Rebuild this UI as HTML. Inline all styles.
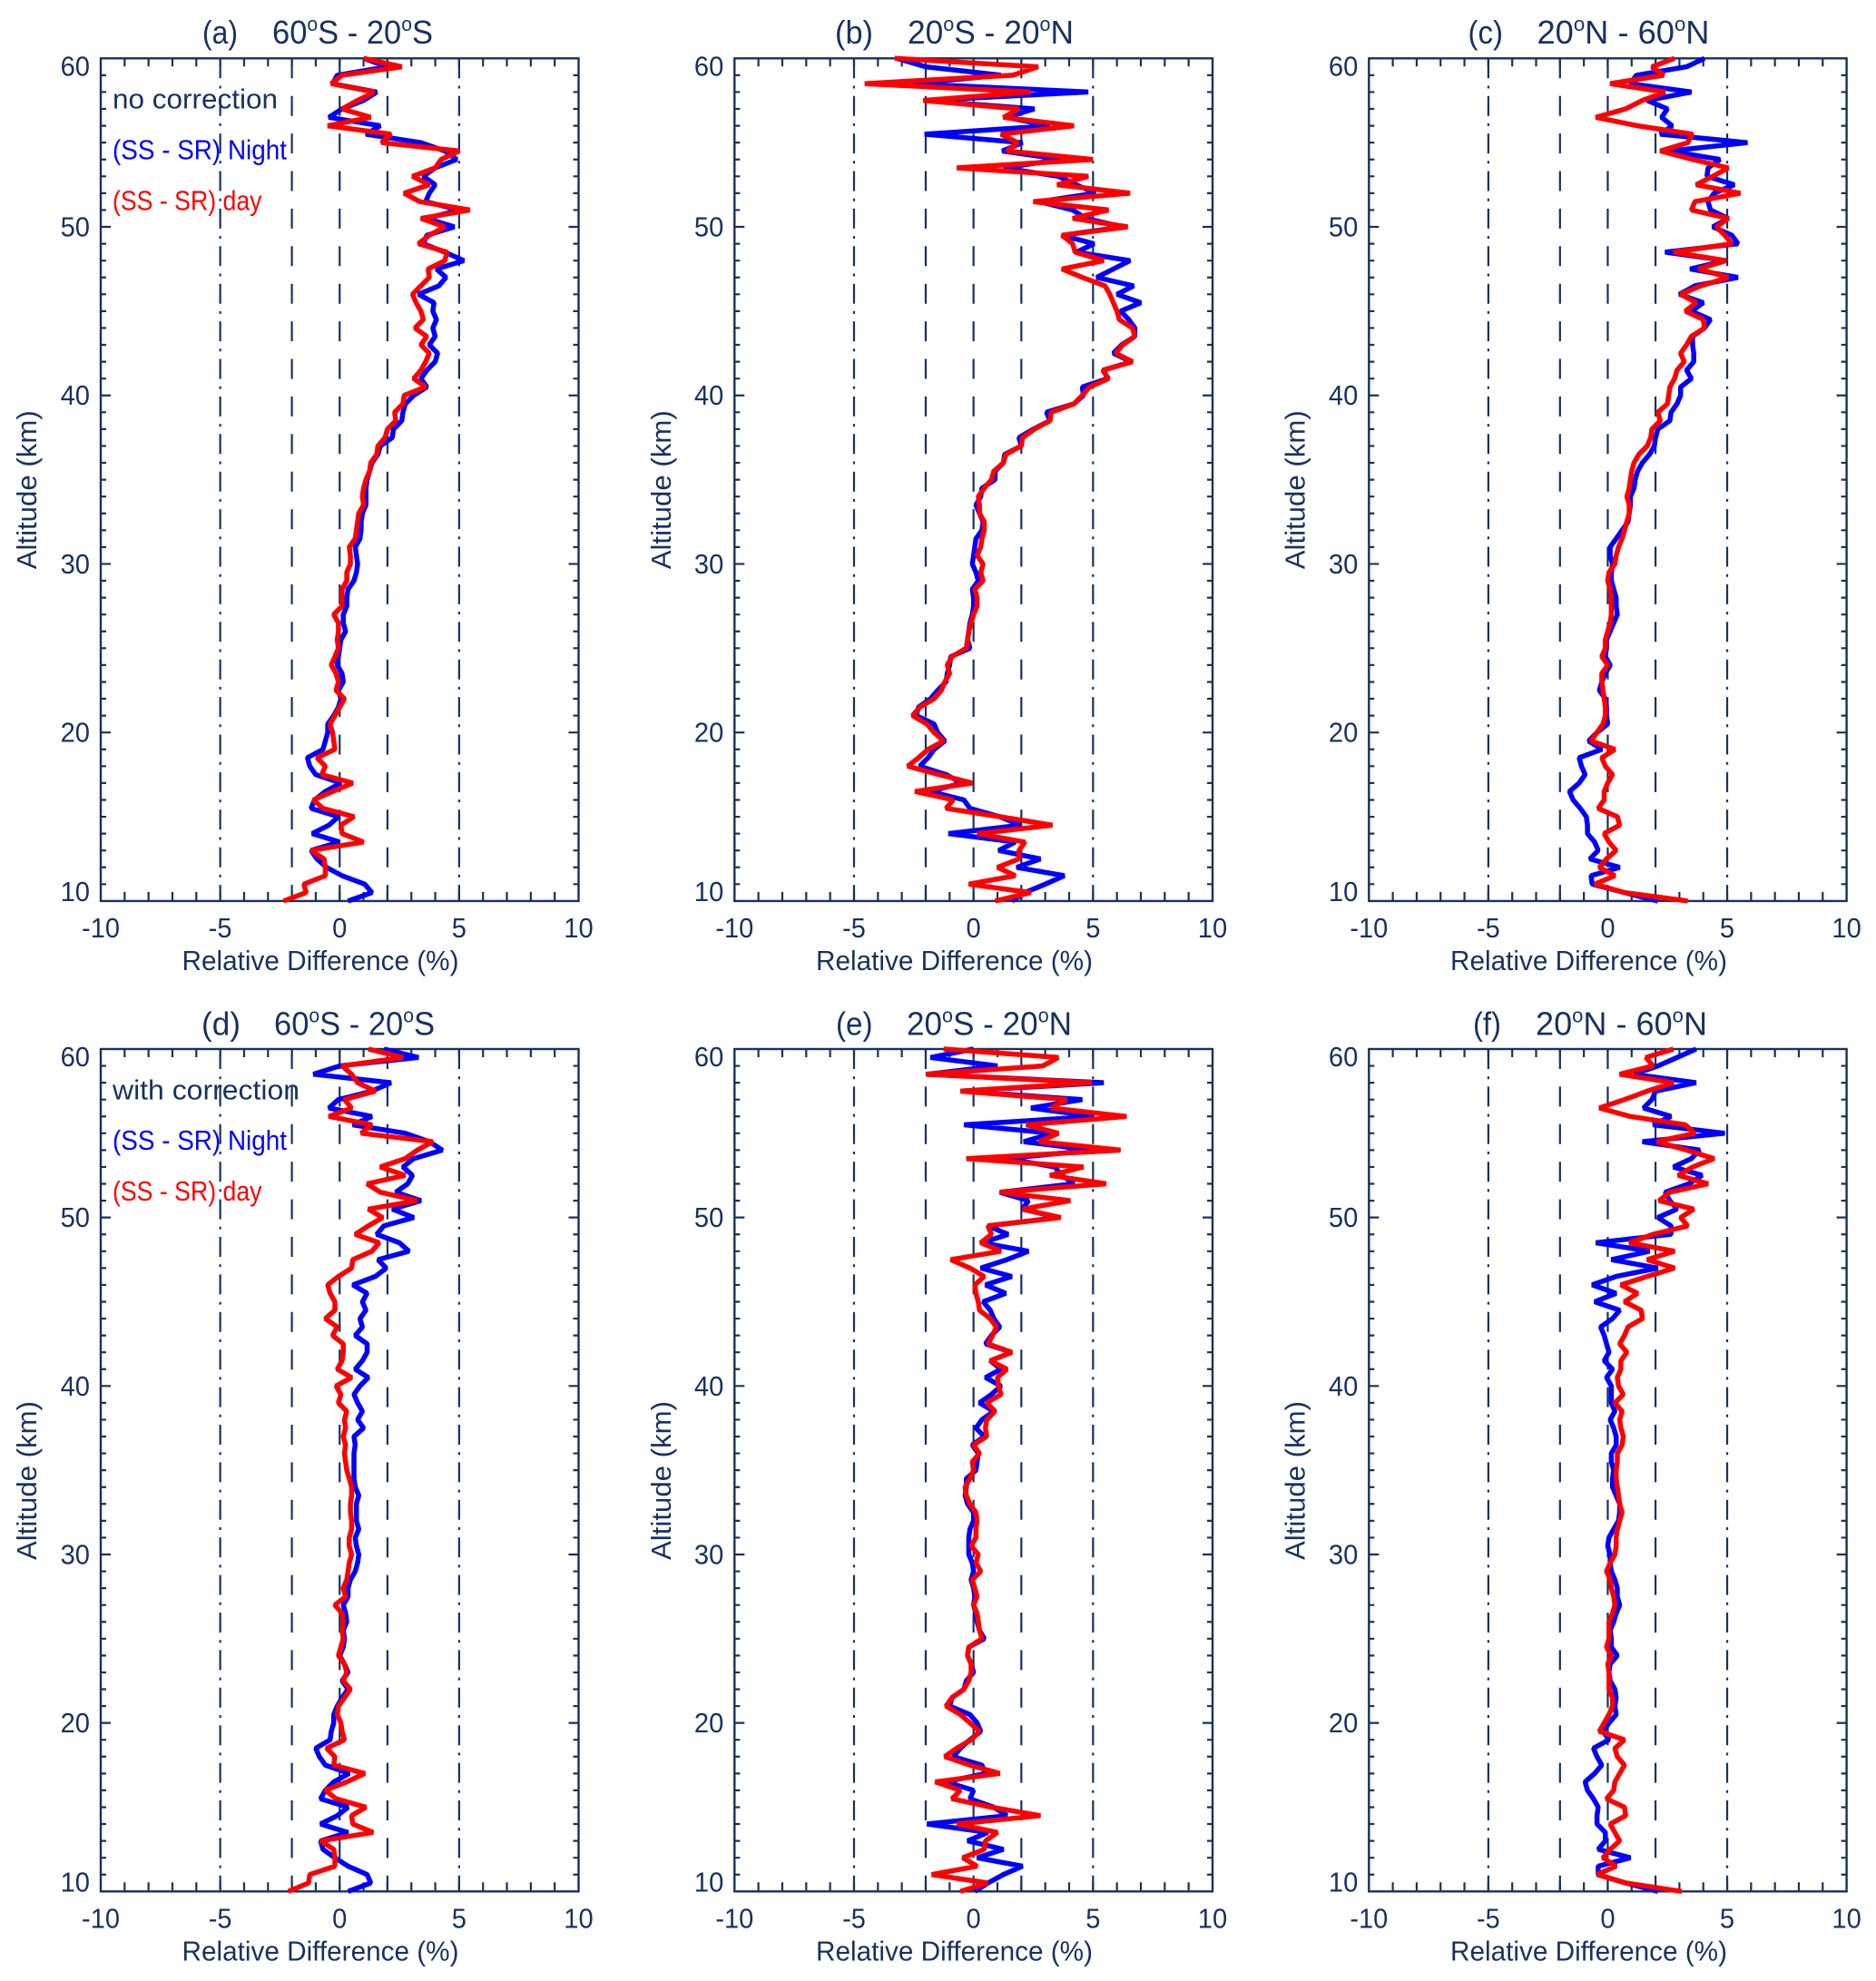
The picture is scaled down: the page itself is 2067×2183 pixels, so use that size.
<!DOCTYPE html>
<html lang="en">
<head>
<meta charset="utf-8">
<title>Relative difference profiles</title>
<style>
html,body{margin:0;padding:0;background:#fff;}
svg{display:block;}
text{font-family:"Liberation Sans",sans-serif;fill:#17325f;}
</style>
</head>
<body>
<svg id="figure" xmlns="http://www.w3.org/2000/svg" width="2067" height="2183" viewBox="0 0 2067 2183"></svg>
<script>
// ---------- chart data ----------
const altitudes = [
60,59.5,59,58.5,58,57.5,57,56.5,56,55.5,
55,54.5,54,53.5,53,52.5,52,51.5,51,50.5,
50,49.5,49,48.5,48,47.5,47,46.5,46,45.5,
45,44.5,44,43.5,43,42.5,42,41.5,41,40.5,
40,39.5,39,38.5,38,37.5,37,36.5,36,35.5,
35,34.5,34,33.5,33,32.5,32,31.5,31,30.5,
30,29.5,29,28.5,28,27.5,27,26.5,26,25.5,
25,24.5,24,23.5,23,22.5,22,21.5,21,20.5,
20,19.5,19,18.5,18,17.5,17,16.5,16,15.5,
15,14.5,14,13.5,13,12.5,12,11.5,11,10.5,
10];
const xTickLabels = [-10,-5,0,5,10];
const yTickLabels = [60,50,40,30,20,10];
const dashedRefs = [-2,0,2];
const dashDotRefs = [-5,5];
const legendNight = "(SS - SR) Night";
const legendDay = "(SS - SR) day";

const nightA = [
1.0,2.0,-.1,-.3,1.55,1.0,.1,-.45,1.7,1.1,
3.4,4.4,4.9,4.0,3.5,4.0,3.75,3.6,5.0,3.65,
4.8,3.65,3.5,4.4,5.2,4.05,4.45,4.15,3.3,3.95,
3.9,4.05,3.9,4.0,3.75,4.1,4.0,3.65,3.4,3.65,
3.1,2.75,2.65,2.6,2.25,2.2,1.7,1.6,1.35,1.25,
1.15,1.1,1.1,1.1,.95,.9,.9,.85,.65,.7,
.75,.7,.6,.35,.3,.3,.15,.15,.25,.05,
0,-.05,-.1,.1,.15,-.05,.05,-.05,-.25,-.5,
-.5,-.6,-.7,-1.35,-1.25,-1.0,.05,-.6,-1.05,-1.2,
-.05,-.45,-1.15,0,-1.2,-.95,-.55,.1,1.05,1.35,
.35];
const dayA = [
1.0,2.6,.1,-.35,1.45,.75,.1,1.3,-.5,2.15,
1.75,5.0,4.25,4.0,3.05,3.75,2.7,3.35,5.45,3.4,
4.4,3.75,3.3,4.5,4.4,3.7,3.75,3.4,3.05,3.2,
3.4,3.5,3.15,3.65,3.4,3.75,3.6,3.4,3.1,3.6,
2.7,2.65,2.3,2.35,2.0,1.9,1.6,1.55,1.3,1.25,
1.1,1.0,.95,1.0,.8,.75,.7,.65,.4,.45,
.45,.3,.3,.1,.1,.1,-.25,-.05,-.05,-.1,
-.05,-.2,-.35,-.15,-.05,-.15,.2,0,-.2,-.4,
-.3,-.25,-.2,-.95,-.6,-.75,.55,-.3,-1.1,-.7,
.6,.05,.1,1.0,-1.2,-.65,-.6,-.6,-1.5,-1.4,
-2.35];
const nightB = [
-3.2,-2.0,1.15,-2.6,4.8,-2.05,2.55,1.35,3.2,-2.05,
2.05,1.2,3.65,1.25,3.55,4.3,5.1,2.75,4.15,4.7,
6.25,3.7,5.05,4.3,6.55,5.85,5.15,6.7,6.0,7.0,
6.15,6.5,6.75,6.75,6.2,5.85,6.6,5.45,5.6,4.55,
4.6,4.2,3.05,3.2,2.5,1.9,2.0,1.3,1.25,.9,
.9,.35,.3,.1,.25,.4,.35,.1,.05,0,
-.05,.1,.2,-.05,0,0,-.05,-.15,-.2,-.25,
-.15,-.95,-1.0,-1.1,-1.15,-1.5,-1.8,-2.3,-2.4,-1.65,
-1.5,-1.2,-1.65,-1.9,-2.25,-1.15,-.5,-1.8,-.4,-.15,
1.1,1.95,-1.05,1.75,1.05,2.8,1.8,3.8,3.0,2.15,
1.6];
const dayB = [
-3.3,2.7,1.65,-4.55,2.4,-2.1,1.9,1.25,4.2,1.15,
1.85,1.4,5.0,-.7,4.8,3.5,6.55,2.5,5.65,4.15,
6.45,3.7,4.15,4.25,5.45,3.7,4.55,5.5,5.7,5.85,
6.0,6.1,6.65,6.75,6.25,5.95,6.65,5.4,5.65,4.85,
4.55,4.2,3.25,3.2,2.55,2.05,2.0,1.35,1.25,.85,
.75,.45,.2,.25,.25,.45,.45,.35,.3,.15,
.4,.3,.4,.05,.15,.15,0,-.1,-.2,-.25,
-.3,-.9,-1.1,-1.0,-1.2,-1.35,-1.65,-2.25,-2.55,-1.95,
-1.65,-1.25,-1.9,-2.3,-2.75,-1.45,-.05,-2.45,-.85,-1.15,
1.1,3.3,.15,2.15,1.9,1.9,1.0,1.75,-.2,2.4,
.9];
const nightC = [
4.05,3.3,1.2,.95,3.5,1.65,2.5,2.25,2.7,2.2,
5.85,2.6,4.7,4.2,4.15,5.3,4.45,4.2,4.3,5.05,
4.4,5.2,5.45,2.4,4.95,3.45,5.45,3.65,3.0,4.0,
3.5,4.3,4.05,3.55,3.55,3.6,3.6,3.3,3.5,3.05,
3.05,2.9,2.65,2.6,2.1,2.0,1.95,1.75,1.45,1.25,
1.15,1.1,.95,.95,.9,.85,.6,.35,.1,.1,
.2,.15,.15,.25,.35,.35,.4,.25,.1,-.05,
-.05,-.1,.1,-.1,-.25,-.35,-.1,-.05,-.05,0,
-.45,-.8,-.25,-1.2,-1.1,-.95,-1.2,-1.6,-1.45,-1.15,
-.9,-.85,-.85,-.55,-.4,-.75,.5,-.7,-.65,.7,
2.1];
const dayC = [
2.8,1.85,2.35,.1,2.4,1.45,.75,-.5,1.25,3.55,
3.35,2.2,3.55,5.05,4.4,3.7,5.55,3.65,3.5,5.05,
4.55,4.9,5.2,2.75,4.95,3.8,5.05,3.9,3.05,3.7,
3.25,4.0,4.05,3.5,3.3,3.05,3.2,2.9,2.8,2.6,
2.55,2.5,2.1,2.2,1.85,1.8,1.65,1.3,1.1,1.0,
.95,.9,.8,.9,.9,.8,.7,.6,.45,.35,
.3,.05,0,.1,.15,.15,.15,.1,0,-.1,
-.1,-.25,0,-.25,-.25,-.2,-.15,-.1,-.1,-.2,
-.45,-.7,.3,-.25,-.1,.2,0,-.15,-.15,-.4,
.4,.5,-.15,.05,.35,-.05,-.35,.3,-.55,.7,
3.35];
const nightD = [
1.85,3.3,0,-1.1,2.15,1.35,-.05,-.45,1.35,.55,
2.75,3.75,4.3,3.1,2.65,3.05,2.85,2.35,3.4,2.2,
3.1,1.85,1.55,2.5,2.9,1.6,1.95,1.5,.55,1.15,
.95,1.1,.85,.95,.65,1.15,1.15,.95,.65,1.2,
.85,.6,.75,.95,.75,1.0,.6,.65,.6,.6,
.6,.6,.65,.8,.7,.7,.7,.8,.65,.7,
.8,.75,.65,.45,.35,.35,.15,.25,.3,.15,
.2,.15,0,.2,.35,.1,.35,.1,-.1,-.25,
-.25,-.35,-.4,-1.0,-.85,-.6,.4,-.25,-.6,-.8,
.35,-.1,-.8,.35,-.8,-.7,-.2,.35,1.15,1.3,
.35];
const dayD = [
1.2,2.65,.1,.5,.75,1.5,.2,.5,-.45,1.35,
.9,3.9,3.25,2.75,1.7,2.75,1.15,1.7,3.25,1.2,
1.8,1.2,.65,1.65,1.35,.55,.5,-.05,-.5,-.4,
-.2,-.2,-.6,-.1,-.3,.15,.15,.1,-.1,.5,
-.15,.05,-.05,.3,.2,.25,.15,.25,.2,.25,
.3,.4,.5,.5,.45,.45,.5,.5,.4,.4,
.5,.4,.35,.3,.15,.25,-.2,.1,.15,.1,
.15,.05,-.05,.2,.3,.15,.45,.2,-.05,-.1,
.05,.1,.2,-.55,-.2,-.25,1.05,.3,-.6,-.15,
1.1,.5,.55,1.4,-.8,-.25,-.2,-.2,-1.25,-1.3,
-2.15];
const nightE = [
0,-1.8,1.0,-1.95,5.45,-.5,4.55,2.4,5.05,-.4,
3.3,2.1,4.95,1.4,3.4,3.7,4.2,1.1,2.3,2.05,
3.55,.6,1.45,.35,2.3,1.4,.3,1.6,.5,1.35,
.4,.7,.85,1.1,.75,.5,1.6,.7,1.15,.5,
1.15,.75,.25,.85,.35,.1,.45,-.05,.2,.15,
.1,-.3,-.3,-.35,-.25,0,0,-.15,-.2,-.2,
-.2,-.05,0,-.1,0,.05,0,.1,.15,.25,
.45,-.2,-.25,-.1,0,-.3,-.4,-.9,-1.0,-.15,
.15,.3,-.15,-.55,-.85,.35,.5,-1.15,0,-.15,
.85,1.4,-1.95,.6,-.25,1.25,.15,2.05,1.25,.6,
.05];
const dayE = [
-1.25,3.55,2.9,-2.0,4.95,-.55,3.9,3.25,6.4,2.2,
3.55,2.75,6.15,-.3,4.6,3.2,5.55,1.1,4.05,2.05,
3.65,.6,.75,.3,1.15,-.95,-.15,.45,.05,.1,
.2,.25,.7,.95,.8,.6,1.6,.7,1.4,1.0,
1.05,1.15,.55,.9,.55,.5,.55,0,.25,-.05,
0,-.15,-.35,-.3,-.15,.1,.15,.1,.1,-.1,
.2,.1,.3,-.05,.05,.15,0,.15,.2,.25,
.35,-.2,-.25,-.1,-.1,-.2,-.4,-.9,-1.15,-.55,
-.15,.25,-.1,-.7,-1.2,-.15,1.1,-1.6,-.55,-.9,
.75,2.8,-.7,1.0,.5,.45,-.45,.15,-1.75,.6,
-.55];
const nightF = [
3.7,2.9,2.1,1.1,3.7,2.0,1.85,1.5,2.65,1.9,
4.9,1.45,3.85,3.5,2.75,3.95,3.4,2.4,2.6,2.9,
2.1,2.65,2.65,-.5,1.75,.15,2.1,.35,-.65,.35,
-.55,.5,.2,-.3,-.15,-.05,.05,-.15,.2,-.05,
.15,.15,.15,.3,.1,.25,.35,.35,.15,.15,
.25,.2,.2,.35,.5,.5,.45,.25,.05,0,
.1,.1,.15,.3,.4,.4,.5,.35,.25,.1,
.15,.15,.4,.1,.05,.1,.3,.35,.3,.35,
.05,-.2,.05,-.6,-.45,-.25,-.55,-.95,-.85,-.6,
-.4,-.45,-.45,-.1,-.1,-.4,.95,-.4,-.4,.75,
2.1];
const dayF = [
2.75,1.6,1.9,.5,2.75,1.65,.7,-.35,.95,3.25,
3.65,2.05,3.3,4.45,3.55,2.95,4.2,2.6,2.15,3.6,
3.05,3.35,1.9,.9,2.8,1.65,2.8,1.65,.55,1.25,
.7,1.4,1.45,.85,.7,.5,.8,.55,.55,.4,
.45,.65,.3,.6,.5,.55,.65,.6,.4,.4,
.35,.35,.4,.45,.5,.6,.5,.4,.35,.35,
.3,.1,-.05,.1,.15,.25,.3,.2,.05,.05,
.05,-.05,.15,0,.05,.05,.05,.2,.2,.05,
-.15,-.35,.7,.3,.4,.7,.5,.3,.25,-.05,
.7,.75,.1,.3,.5,.1,-.2,.35,-.45,.75,
3.1];

// ---------- panel layout ----------
const TOP1 = 64.3, BOT1 = 992.9, TOP2 = 1156, BOT2 = 2084.3;
const panels = [
 {id:'a',night:nightA,day:dayA,left:111,right:637.5,top:TOP1,bottom:BOT1,tag:'(a)',tagX:223,tagW:39,region:['60','S - 20','S'],regX:300,regW:177,base:48,yT:40,xT:353,note:'no correction',noteW:182,noteY:119.6,ny:175.7,dy:231.4},
 {id:'b',night:nightB,day:dayB,left:809.3,right:1336,top:TOP1,bottom:BOT1,tag:'(b)',tagX:920,tagW:42,region:['20','S - 20','N'],regX:1000,regW:183,base:48,yT:739,xT:1051.5},
 {id:'c',night:nightC,day:dayC,left:1508.3,right:2034.6,top:TOP1,bottom:BOT1,tag:'(c)',tagX:1617.5,tagW:38.5,region:['20','N - 60','N'],regX:1693.5,regW:190,base:48,yT:1437.5,xT:1750.5},
 {id:'d',night:nightD,day:dayD,left:111,right:637.5,top:TOP2,bottom:BOT2,tag:'(d)',tagX:222,tagW:43,region:['60','S - 20','S'],regX:302,regW:177,base:1140.5,yT:40,xT:353,note:'with correction',noteW:206,noteY:1211.4,ny:1267,dy:1323},
 {id:'e',night:nightE,day:dayE,left:809.3,right:1336,top:TOP2,bottom:BOT2,tag:'(e)',tagX:921,tagW:40.5,region:['20','S - 20','N'],regX:999,regW:182,base:1140.5,yT:739,xT:1051.5},
 {id:'f',night:nightF,day:dayF,left:1508.3,right:2034.6,top:TOP2,bottom:BOT2,tag:'(f)',tagX:1623,tagW:31,region:['20','N - 60','N'],regX:1692,regW:189,base:1140.5,yT:1437.5,xT:1750.5}
];

const NS = 'http://www.w3.org/2000/svg';
const AXIS = '#17325f';
const LABEL_SIZE = 31;
const root = document.getElementById('figure');

function make(tag, attrs, parent){
  const el = document.createElementNS(NS, tag);
  for (const k in attrs) el.setAttribute(k, attrs[k]);
  parent.appendChild(el);
  return el;
}
function xScale(p, v){ return p.left + (v + 10) / 20 * (p.right - p.left); }
function yScale(p, alt){ return p.top + (60 - alt) / 50 * (p.bottom - p.top); }
function labelWidth(s){
  let w = 0;
  for (const c of s) w += c === '-' ? 9.5 : 16.2;
  return w;
}

function drawPanel(p){
  const g = make('g', {}, root);
  
  

  // reference lines
  dashedRefs.forEach(function(v){
    const x = xScale(p, v);
    const l = make('line', {x1:x, x2:x, y1:p.top, y2:p.bottom, stroke:AXIS, 'stroke-width':2.2, 'stroke-dasharray':'22 19.4'}, g);
    
    
  });
  dashDotRefs.forEach(function(v){
    const x = xScale(p, v);
    const l = make('line', {x1:x, x2:x, y1:p.top, y2:p.bottom, stroke:AXIS, 'stroke-width':2.2, 'stroke-dasharray':'22 8.2 3 8.2'}, g);
    
    
  });

  // frame
  const frame = make('rect', {x:p.left, y:p.top, width:p.right-p.left, height:p.bottom-p.top, fill:'none', stroke:AXIS, 'stroke-width':2.4}, g);
  
  

  // ticks
  let d = '';
  for (let v = -9; v <= 9; v++){
    const x = xScale(p, v);
    d += 'M' + x + ' ' + p.top + 'V' + (p.top + 9);
    d += 'M' + x + ' ' + p.bottom + 'V' + (p.bottom - 10);
  }
  for (let a = 11; a <= 59; a++){
    const y = yScale(p, a);
    const len = a % 10 === 0 ? 11 : 6;
    d += 'M' + p.left + ' ' + y + 'H' + (p.left + len);
    d += 'M' + p.right + ' ' + y + 'H' + (p.right - len);
  }
  const ticks = make('path', {d:d, fill:'none', stroke:AXIS, 'stroke-width':2.2}, g);
  
  

  // x tick labels
  xTickLabels.forEach(function(v){
    const s = String(v);
    const t = make('text', {x:xScale(p, v), y:p.bottom + 40, 'font-size':LABEL_SIZE, 'text-anchor':'middle', textLength:labelWidth(s), lengthAdjust:'spacingAndGlyphs'}, g);
    
    
    t.textContent = s;
  });
  // y tick labels
  yTickLabels.forEach(function(v){
    const off = v === 60 ? 19 : (v === 10 ? 0 : 10.5);
    const s = String(v);
    const t = make('text', {x:p.left - 12, y:yScale(p, v) + off, 'font-size':LABEL_SIZE, 'text-anchor':'end', textLength:labelWidth(s), lengthAdjust:'spacingAndGlyphs'}, g);
    
    
    t.textContent = s;
  });

  // axis titles
  const xt = make('text', {x:p.xT, y:p.bottom + 76, 'font-size':LABEL_SIZE, 'text-anchor':'middle', textLength:305, lengthAdjust:'spacingAndGlyphs'}, g);
  
  
  xt.textContent = 'Relative Difference (%)';

  const cy = p.top + 475.5;
  const yt = make('text', {x:p.yT, y:cy, 'font-size':LABEL_SIZE, 'text-anchor':'middle', transform:'rotate(-90 ' + p.yT + ' ' + cy + ')', textLength:175, lengthAdjust:'spacingAndGlyphs'}, g);
  
  
  yt.textContent = 'Altitude (km)';

  // panel title
  const tag = make('text', {x:p.tagX, y:p.base, 'font-size':36, textLength:p.tagW, lengthAdjust:'spacingAndGlyphs'}, g);
  
  
  tag.textContent = p.tag;

  const title = make('text', {x:p.regX, y:p.base, 'font-size':36, textLength:p.regW, lengthAdjust:'spacingAndGlyphs'}, g);
  
  
  make('tspan', {}, title).textContent = p.region[0];
  make('tspan', {'font-size':22, dy:-14}, title).textContent = 'o';
  make('tspan', {dy:14}, title).textContent = p.region[1];
  make('tspan', {'font-size':22, dy:-14}, title).textContent = 'o';
  make('tspan', {dy:14}, title).textContent = p.region[2];

  // legend
  if (p.note){
    const n = make('text', {x:124, y:p.noteY, 'font-size':LABEL_SIZE, textLength:p.noteW, lengthAdjust:'spacingAndGlyphs'}, g);
    
    
    n.textContent = p.note;

    const ln = make('text', {x:124, y:p.ny, 'font-size':LABEL_SIZE, textLength:192, lengthAdjust:'spacingAndGlyphs', style:'fill:#0000ff'}, g);
    
    
    ln.textContent = legendNight;

    const ld = make('text', {x:124, y:p.dy, 'font-size':LABEL_SIZE, textLength:164.5, lengthAdjust:'spacingAndGlyphs', style:'fill:#ff0000'}, g);
    
    
    ld.textContent = legendDay;
  }

  // series
  const nightPts = p.night.map(function(v, i){ return xScale(p, v).toFixed(1) + ',' + yScale(p, altitudes[i]).toFixed(1); }).join(' ');
  const nightLine = make('polyline', {points:nightPts, fill:'none', stroke:'#0000ff', 'stroke-width':5.5, 'stroke-linejoin':'bevel'}, g);
  
  

  const dayPts = p.day.map(function(v, i){ return xScale(p, v).toFixed(1) + ',' + yScale(p, altitudes[i]).toFixed(1); }).join(' ');
  const dayLine = make('polyline', {points:dayPts, fill:'none', stroke:'#ff0000', 'stroke-width':5.5, 'stroke-linejoin':'bevel'}, g);
  
  
}

panels.forEach(drawPanel);
</script>
</body>
</html>
